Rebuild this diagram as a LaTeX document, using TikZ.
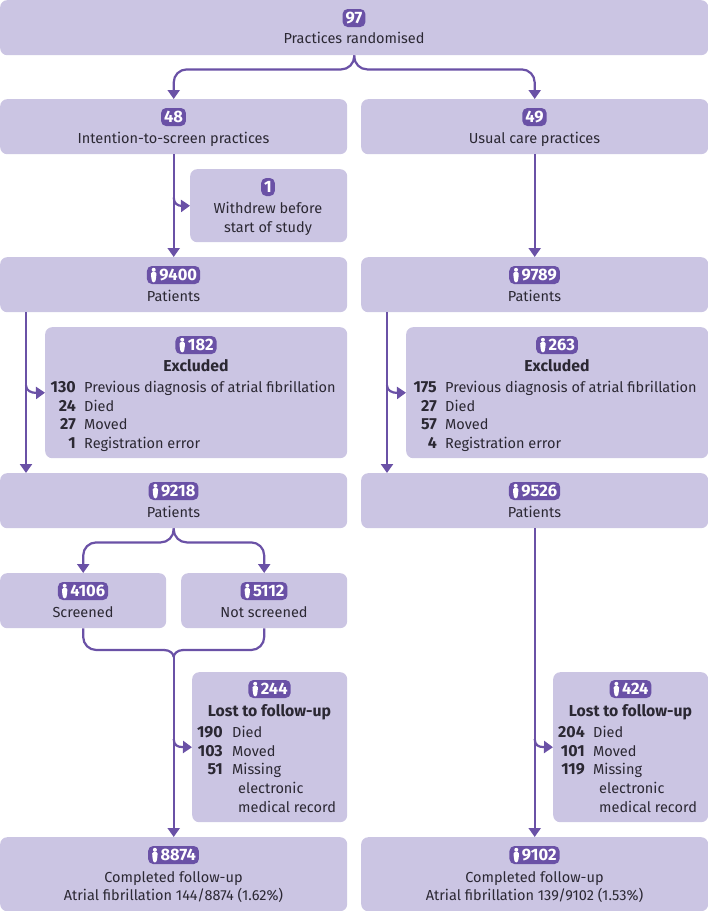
\documentclass[tikz,border=0pt]{standalone}
\usepackage{fontspec}
\setmainfont{Fira Sans}
\usetikzlibrary{arrows.meta,calc}
\definecolor{boxfill}{HTML}{CBC5E3}
\definecolor{accent}{HTML}{6A51A6}
\definecolor{ink}{HTML}{2B2833}
\tikzset{
  flowbox/.style={fill=boxfill,draw=none,rounded corners=7pt,inner sep=0pt,anchor=north west},
  badge/.style={fill=accent,text=white,rounded corners=5pt,inner xsep=3pt,inner ysep=0pt,minimum height=18pt,font=\fontsize{16.5}{18}\selectfont\bfseries},
  txt/.style={text=ink,anchor=base,inner sep=0pt,font=\fontsize{14.5}{18}\selectfont},
  ttl/.style={txt,font=\fontsize{15.8}{18}\selectfont\bfseries},
  num/.style={txt,anchor=base east,font=\fontsize{16}{18}\selectfont\bfseries},
  lab/.style={txt,anchor=base west},
  flow/.style={draw=accent,line width=2.2pt,-{Triangle[width=12pt,length=9pt]}},
  plain/.style={draw=accent,line width=2.2pt},
}
\newcommand{\bx}[5]{\node[flowbox,minimum width=#4pt,minimum height=#5pt] (#1) at (#2,#3) {};}
\newcommand{\bdg}[4]{\node[badge] (#1) at (#2,#3) {#4};}
\newcommand{\pbdg}[4]{\node[badge] (#1) at (#2,#3) {\hspace*{9.5pt}#4};
  \fill[white] ($(#1.west)+(7,-5.2)$) circle (2pt);
  \fill[white,rounded corners=1.2pt] ($(#1.west)+(4.2,-2.8)$) -- ($(#1.west)+(9.8,-2.8)$) -- ($(#1.west)+(9.4,3)$) -- ($(#1.west)+(8.4,7.4)$) -- ($(#1.west)+(5.6,7.4)$) -- ($(#1.west)+(4.6,3)$) -- cycle;}
\newcommand{\lbl}[4]{\node[txt] (#1) at (#2,#3) {#4};}
\newcommand{\ttlb}[4]{\node[ttl] (#1) at (#2,#3) {#4};}
\newcommand{\rw}[5]{\node[num] (#1n) at (#2,#4) {#5};}
\newcommand{\lb}[4]{\node[lab] (#1) at (#2,#3) {#4};}
\begin{document}
\begin{tikzpicture}[x=1pt,y=-1pt]
\useasboundingbox (0,0) rectangle (708,911);
% boxes
\bx{top}{0}{0}{708}{55}
\bx{itsb}{0}{99}{347}{55}
\bx{ucb}{361}{99}{347}{55}
\bx{wd}{190}{169}{157}{73}
\bx{pa}{0}{257}{347}{55}
\bx{pb}{361}{257}{347}{55}
\bx{exa}{45}{327}{302}{131}
\bx{exb}{406}{327}{302}{131}
\bx{qa}{0}{473}{347}{55}
\bx{qb}{361}{473}{347}{55}
\bx{scr}{0}{573}{166}{55}
\bx{nscr}{181}{573}{166}{55}
\bx{lfa}{192}{672}{155}{150}
\bx{lfb}{553}{672}{155}{150}
\bx{ca}{0}{837}{347}{74}
\bx{cb}{361}{837}{347}{74}
% texts: top rows
\bdg{b97}{354}{18}{97}
\lbl{t97}{354}{43}{Practices randomised}
\bdg{b48}{173.5}{117}{48}
\lbl{t48}{173.5}{143}{Intention-to-screen practices}
\bdg{b49}{534.5}{117}{49}
\lbl{t49}{534.5}{143}{Usual care practices}
\bdg{b1}{268}{187}{1}
\lbl{t1a}{268}{213}{Withdrew before}
\lbl{t1b}{268}{232}{start of study}
\pbdg{b9400}{173.5}{275}{9400}
\lbl{t9400}{173.5}{301}{Patients}
\pbdg{b9789}{534.5}{275}{9789}
\lbl{t9789}{534.5}{301}{Patients}
% excluded A
\pbdg{b182}{196}{345}{182}
\ttlb{e1}{196}{371}{Excluded}
\rw{ea1}{76}{}{392}{130}\lb{ea1l}{84}{392}{Previous diagnosis of atrial fibrillation}
\rw{ea2}{76}{}{411}{24}\lb{ea2l}{84}{411}{Died}
\rw{ea3}{76}{}{429.5}{27}\lb{ea3l}{84}{429.5}{Moved}
\rw{ea4}{76}{}{448}{1}\lb{ea4l}{84}{448}{Registration error}
% excluded B
\pbdg{b263}{557}{345}{263}
\ttlb{e2}{557}{371}{Excluded}
\rw{eb1}{437}{}{392}{175}\lb{eb1l}{445}{392}{Previous diagnosis of atrial fibrillation}
\rw{eb2}{437}{}{411}{27}\lb{eb2l}{445}{411}{Died}
\rw{eb3}{437}{}{429.5}{57}\lb{eb3l}{445}{429.5}{Moved}
\rw{eb4}{437}{}{448}{4}\lb{eb4l}{445}{448}{Registration error}
% patients 2
\pbdg{b9218}{173.5}{491}{9218}
\lbl{t9218}{173.5}{517}{Patients}
\pbdg{b9526}{534.5}{491}{9526}
\lbl{t9526}{534.5}{517}{Patients}
\pbdg{b4106}{83}{591}{4106}
\lbl{t4106}{83}{617}{Screened}
\pbdg{b5112}{264}{591}{5112}
\lbl{t5112}{264}{617}{Not screened}
% lost A
\pbdg{b244}{269.5}{689}{244}
\ttlb{l1}{269.5}{716}{Lost to follow-up}
\rw{la1}{223}{}{737}{190}\lb{la1l}{232}{737}{Died}
\rw{la2}{223}{}{756}{103}\lb{la2l}{232}{756}{Moved}
\rw{la3}{223}{}{774.5}{51}\lb{la3l}{232}{774.5}{Missing}
\lb{la4l}{238}{793}{electronic}
\lb{la5l}{238}{812}{medical record}
% lost B
\pbdg{b424}{630.5}{689}{424}
\ttlb{l2}{630.5}{716}{Lost to follow-up}
\rw{lb1}{585}{}{737}{204}\lb{lb1l}{593}{737}{Died}
\rw{lb2}{585}{}{756}{101}\lb{lb2l}{593}{756}{Moved}
\rw{lb3}{585}{}{774.5}{119}\lb{lb3l}{593}{774.5}{Missing}
\lb{lb4l}{599}{793}{electronic}
\lb{lb5l}{599}{812}{medical record}
% final
\pbdg{b8874}{173.5}{855}{8874}
\lbl{t8874a}{173.5}{882}{Completed follow-up}
\lbl{t8874b}{173.5}{900}{Atrial fibrillation 144/8874 (1.62\%)}
\pbdg{b9102}{534.5}{855}{9102}
\lbl{t9102a}{534.5}{882}{Completed follow-up}
\lbl{t9102b}{534.5}{900}{Atrial fibrillation 139/9102 (1.53\%)}
% connectors
\draw[flow,rounded corners=13pt] (top.south) -- ++(0,14) -| (itsb.north);
\draw[flow,rounded corners=13pt] (top.south) -- ++(0,14) -| (ucb.north);
\draw[flow] (itsb.south) -- (pa.north);
\draw[flow] (ucb.south) -- (pb.north);
\coordinate (j1) at ($(itsb.south)+(0,43)$);
\draw[flow] (j1) .. controls +(0,6) and +(-4,0) .. +(8,8.5) -- (wd.west);
\coordinate (paout) at ($(pa.south west)+(26,0)$);
\coordinate (qain) at ($(qa.north west)+(26,0)$);
\draw[flow] (paout) -- (qain);
\coordinate (pbout) at ($(pb.south west)+(26,0)$);
\coordinate (qbin) at ($(qb.north west)+(26,0)$);
\draw[flow] (pbout) -- (qbin);
\coordinate (j2) at ($(paout)+(0,73)$);
\draw[flow] (j2) .. controls +(0,5) and +(-5,0) .. +(10,7.5) -- (exa.west);
\coordinate (j3) at ($(pbout)+(0,73)$);
\draw[flow] (j3) .. controls +(0,5) and +(-5,0) .. +(10,7.5) -- (exb.west);
\draw[flow,rounded corners=13pt] (qa.south) -- ++(0,14) -| (scr.north);
\draw[flow,rounded corners=13pt] (qa.south) -- ++(0,14) -| (nscr.north);
\coordinate (m) at ($(ca.north)+(0,-187)$);
\draw[plain,rounded corners=13pt] (scr.south) |- ($(m)+(-9,0)$);
\draw[plain,rounded corners=13pt] (nscr.south) |- ($(m)+(9,0)$);
\draw[plain] ($(m)+(-9.5,0)$) .. controls +(6,0) and +(0,-3) .. +(9.5,7);
\draw[plain] ($(m)+(9.5,0)$) .. controls +(-6,0) and +(0,-3) .. +(-9.5,7);
\draw[flow] ($(m)+(0,6)$) -- (ca.north);
\draw[flow] (qb.south) -- (cb.north);
\coordinate (j4) at ($(ca.north)+(0,-98)$);
\draw[flow] (j4) .. controls +(0,6) and +(-4,0) .. +(8,8) -- (lfa.west);
\coordinate (j5) at ($(cb.north)+(0,-98)$);
\draw[flow] (j5) .. controls +(0,6) and +(-4,0) .. +(8,8) -- (lfb.west);
\end{tikzpicture}
\end{document}
